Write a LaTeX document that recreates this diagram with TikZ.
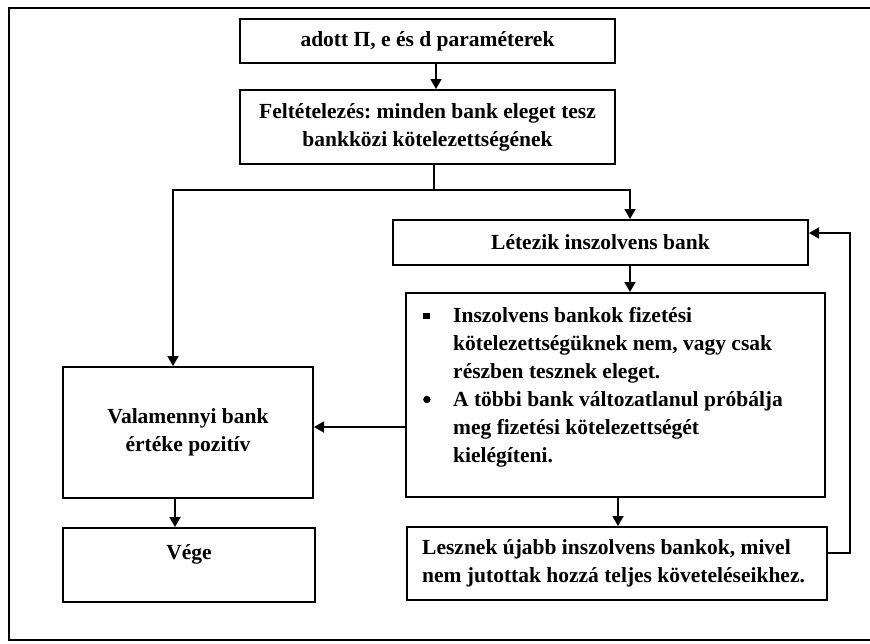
\documentclass[tikz,border=0pt]{standalone}
\usepackage{fontspec}
\setmainfont{Liberation Serif}
\usetikzlibrary{arrows.meta}
\frenchspacing
\tikzset{
  box/.style={draw, line width=2pt, rectangle, inner sep=0pt, align=flush center,
    font=\fontsize{21.5}{28}\selectfont\bfseries},
  txt/.style={inner sep=0pt, font=\fontsize{21.5}{28}\selectfont\bfseries},
  conn/.style={line width=1.8pt},
  arr/.style={conn, -{Triangle[length=10pt,width=11pt]}},
}
\newcommand{\sqbul}{\makebox[30pt][l]{\raisebox{3pt}{\rule{6.5pt}{6.5pt}}}}
\newcommand{\rdbul}{\makebox[30pt][l]{\raisebox{3pt}{\tikz\fill (0,0) circle (3.7pt);}}}
\begin{document}
\begin{tikzpicture}[x=1pt,y=-1pt]
\useasboundingbox (0,0) rectangle (870,643);
% outer frame
\draw[line width=2pt] (9,8) rectangle (880,640);
% boxes
\node[box, minimum width=375pt, minimum height=44pt] (b1) at (427.5,41) {adott Π, e és d paraméterek};
\node[box, minimum width=375pt, minimum height=74pt] (b2) at (427.5,127) {Feltételezés: minden bank eleget tesz\\ bankközi kötelezettségének};
\node[box, minimum width=415pt, minimum height=45pt] (b3) at (600.5,242.5) {Létezik inszolvens bank};
\node[box, minimum width=419pt, minimum height=204pt] (b4) at (615.5,395) {};
\node[txt, text width=395pt, align=flush left, anchor=west, xshift=18pt, yshift=8pt] (b4t) at (b4.west) {%
\sqbul Inszolvens bankok fizetési\\
\hspace*{30pt}kötelezettségüknek nem, vagy csak\\
\hspace*{30pt}részben tesznek eleget.\\
\rdbul A többi bank változatlanul próbálja\\
\hspace*{30pt}meg fizetési kötelezettségét\\
\hspace*{30pt}kielégíteni.};
\node[box, minimum width=420pt, minimum height=73pt] (b5) at (617,563.5) {};
\node[txt, text width=400pt, align=flush left, anchor=west, xshift=16pt] (b5t) at (b5.west) {Lesznek újabb inszolvens bankok, mivel\\ nem jutottak hozzá teljes követeléseikhez.};
\node[box, minimum width=250pt, minimum height=131pt] (b6) at (188,432.5) {Valamennyi bank\\ értéke pozitív};
\node[box, minimum width=252pt, minimum height=74pt] (b7) at (189,565) {};
\node[txt, yshift=11pt] (b7t) at (b7) {Vége};
% connectors
\coordinate (x12) at (436,0);
\draw[arr] (x12 |- b1.south) -- (x12 |- b2.north);
\coordinate (j) at (434,190);
\coordinate (jl) at (173,190);
\coordinate (jr) at (630,190);
\draw[conn] (j |- b2.south) -- (j);
\draw[arr] (j) -- (jl) -- (jl |- b6.north);
\draw[arr] (j) -- (jr) -- (jr |- b3.north);
\draw[arr] (jr |- b3.south) -- (jr |- b4.north);
\coordinate (x45) at (618,0);
\draw[arr] (x45 |- b4.south) -- (x45 |- b5.north);
\coordinate (fb1) at (850,553);
\coordinate (fb2) at (850,233);
\draw[arr, line width=1.5pt] (b5.east |- fb1) -- (fb1) -- (fb2) -- (b3.east |- fb2);
\coordinate (ym) at (0,427);
\draw[arr] (b4.west |- ym) -- (b6.east |- ym);
\coordinate (x67) at (175,0);
\draw[arr] (x67 |- b6.south) -- (x67 |- b7.north);
\end{tikzpicture}
\end{document}
